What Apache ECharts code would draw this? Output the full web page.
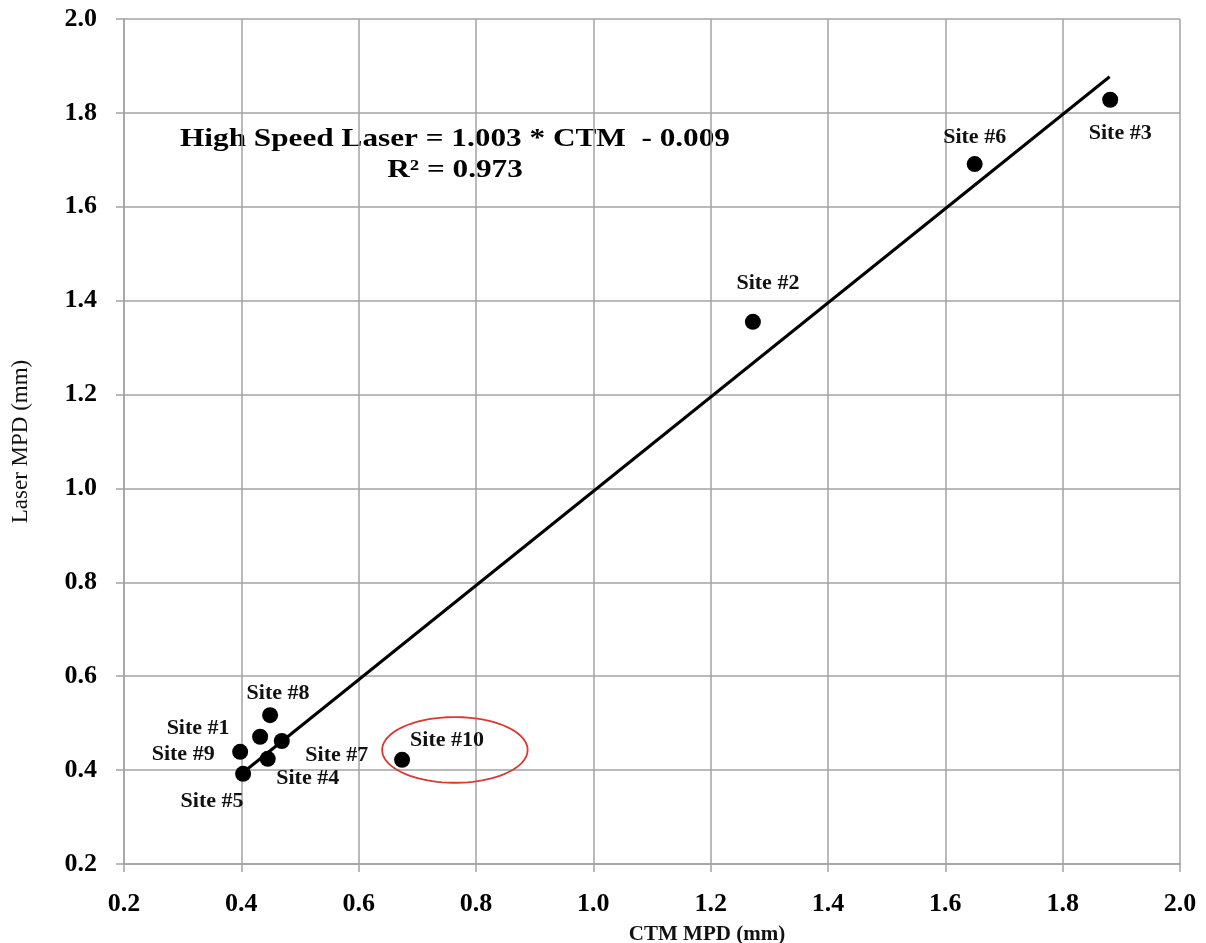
<!DOCTYPE html>
<html>
<head>
<meta charset="utf-8">
<script src="https://cdn.jsdelivr.net/npm/echarts@6/dist/echarts.min.js"></script>
<style>
html,body{margin:0;padding:0;background:#fff;}
#chart{width:1206px;height:943px;}
</style>
</head>
<body>
<div id="chart"></div>
<script>
// ---- data ----
var siteNames = ['Site #1','Site #2','Site #3','Site #4','Site #5','Site #6','Site #7','Site #8','Site #9','Site #10'];
var ctmMPD    = [0.432, 1.272, 1.881, 0.445, 0.403, 1.650, 0.469, 0.449, 0.398, 0.674];
var laserMPD  = [0.471, 1.355, 1.828, 0.424, 0.392, 1.691, 0.462, 0.517, 0.439, 0.422];
var trendX = [0.403, 1.880];
var trendY = [0.395, 1.877];
var xTicks = [0.2, 0.4, 0.6, 0.8, 1.0, 1.2, 1.4, 1.6, 1.8, 2.0];
var yTicks = [0.2, 0.4, 0.6, 0.8, 1.0, 1.2, 1.4, 1.6, 1.8, 2.0];
var equationText = 'High Speed Laser = 1.003 * CTM  - 0.009';
var r2Text = 'R² = 0.973';
var highlightCenter = [0.764, 0.443];
var highlightRadius = [0.124, 0.070];

// ---- label placement (style only) ----
var labelOffsets = {
  'Site #1': [-62, -8], 'Site #2': [15, -38], 'Site #3': [10, 34], 'Site #4': [40, 19],
  'Site #5': [-31, 27], 'Site #6': [0, -27], 'Site #7': [55, 14], 'Site #8': [8, -22],
  'Site #9': [-57, 3], 'Site #10': [45, -19]
};

var FONT = '"Liberation Serif","Times New Roman",serif';
var chart = echarts.init(document.getElementById('chart'));

var points = siteNames.map(function (n, i) {
  return {
    name: n,
    value: [ctmMPD[i], laserMPD[i]],
    label: { show: true, position: 'inside', offset: labelOffsets[n], formatter: n }
  };
});

var gridColor = '#a3a3a3';
function axisCommon(ticks) {
  return {
    type: 'value',
    min: ticks[0],
    max: ticks[ticks.length - 1],
    interval: 0.2,
    axisLine: { show: true, lineStyle: { color: gridColor, width: 1.5 } },
    axisTick: { show: true, length: 8, inside: false, lineStyle: { color: gridColor, width: 1.5 } },
    splitLine: { show: true, lineStyle: { color: gridColor, width: 1.5 } },
    axisLabel: {
      color: '#000', fontFamily: FONT, fontWeight: 'bold', fontSize: 26,
      formatter: function (v) { return v.toFixed(1); }
    }
  };
}

var xAxis = axisCommon(xTicks);
xAxis.axisLabel.margin = 27;
xAxis.name = 'CTM MPD (mm)';
xAxis.nameLocation = 'middle';
xAxis.nameGap = 60;
xAxis.nameTextStyle = { color: '#111', fontFamily: FONT, fontWeight: 'bold', fontSize: 21, padding: [0, 0, 0, 110] };

var yAxis = axisCommon(yTicks);
yAxis.axisLabel.margin = 27;
yAxis.name = 'Laser MPD (mm)';
yAxis.nameLocation = 'middle';
yAxis.nameGap = 92;
yAxis.nameTextStyle = { color: '#111', fontFamily: FONT, fontWeight: 'normal', fontSize: 23 };

chart.setOption({
  animation: false,
  backgroundColor: '#fff',
  grid: { left: 124, right: 26, top: 19, bottom: 79, containLabel: false, outerBoundsMode: 'none' },
  xAxis: xAxis,
  yAxis: yAxis,
  graphic: [
    { type: 'text', x: 455, y: 140, scaleX: 1.25, style: { text: equationText, fill: '#000', font: 'bold 25px ' + FONT, textAlign: 'center', textVerticalAlign: 'middle' } },
    { type: 'text', x: 455, y: 171, scaleX: 1.25, style: { text: r2Text, fill: '#000', font: 'bold 25px ' + FONT, textAlign: 'center', textVerticalAlign: 'middle' } }
  ],
  series: [
    {
      type: 'line',
      data: trendX.map(function (x, i) { return [x, trendY[i]]; }),
      symbol: 'none',
      lineStyle: { color: '#000', width: 3 },
      z: 2
    },
    {
      type: 'scatter',
      data: points,
      symbol: 'circle',
      symbolSize: 16,
      itemStyle: { color: '#000', opacity: 1 },
      label: { color: '#111', fontFamily: FONT, fontWeight: 'bold', fontSize: 22, opacity: 1 },
      z: 3
    },
    {
      type: 'custom',
      data: [highlightCenter.concat(highlightRadius)],
      renderItem: function (params, api) {
        var c = api.coord([api.value(0), api.value(1)]);
        var s = api.size([api.value(2), api.value(3)]);
        var pts = [];
        for (var k = 0; k < 90; k++) {
          var a = k / 90 * Math.PI * 2;
          pts.push([c[0] + s[0] * Math.cos(a), c[1] + s[1] * Math.sin(a)]);
        }
        return { type: 'polygon', shape: { points: pts }, style: { fill: 'none', stroke: '#d63a35', lineWidth: 1.8 } };
      },
      z: 4
    }
  ]
});
</script>
</body>
</html>
